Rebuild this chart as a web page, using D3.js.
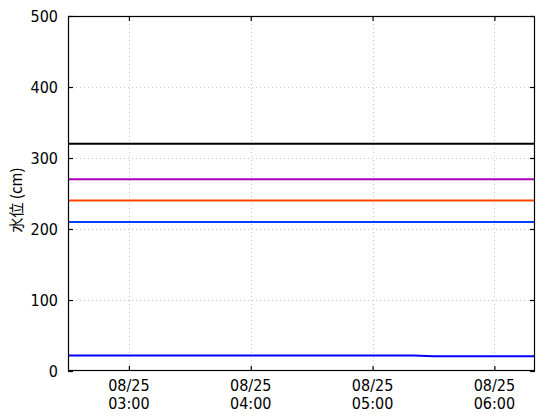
<!DOCTYPE html>
<html><head><meta charset="utf-8">
<script src="https://cdn.jsdelivr.net/npm/d3@7"></script>
<style>body{margin:0;background:#fff}</style>
</head><body><svg id="c" width="560" height="420"></svg>
<script>
const times = ["02:30","02:40","02:50","03:00","03:10","03:20","03:30","03:40","03:50","04:00","04:10","04:20","04:30","04:40","04:50","05:00","05:10","05:20","05:30","05:40","05:50","06:00","06:10","06:20"];
const waterLevel = [22,22,22,22,22,22,22,22,22,22,22,22,22,22,22,22,22,22,20.8,20.8,20.8,20.8,20.8,20.8];
const thresholdNames = ["t320","t270","t240","t210"];
const thresholdValues = [320,270,240,210];
const thresholdColors = ["#000000","#aa00bb","#ff4400","#0040ff"];
const xTicks = ["03:00","04:00","05:00","06:00"];
const yTicks = [0,100,200,300,400,500];
const dateLabel = "08/25";
const yLabel = "水位 (cm)";

const parse = t => { const [h,m] = t.split(":").map(Number); return new Date(2020,7,25,h,m); };
const svg = d3.select("#c");
const L=68, R=535, T=16, B=371;
const x = d3.scaleTime().domain([parse("02:30"), parse("06:20")]).range([L,R]);
const y = d3.scaleLinear().domain([0,500]).range([B,T]);
const font = "'Liberation Sans Narrow','DejaVu Sans Condensed',sans-serif";

// grid
const g = svg.append("g");
g.selectAll(".vg").data(xTicks).join("line")
  .attr("x1",d=>Math.round(x(parse(d)))+0.5).attr("x2",d=>Math.round(x(parse(d)))+0.5)
  .attr("y1",T).attr("y2",B).attr("stroke","#c8c8c8").attr("stroke-dasharray","1,3");
g.selectAll(".hg").data(yTicks.slice(1,-1)).join("line")
  .attr("y1",d=>Math.round(y(d))+0.5).attr("y2",d=>Math.round(y(d))+0.5)
  .attr("x1",L).attr("x2",R).attr("stroke","#c8c8c8").attr("stroke-dasharray","1,3");

// threshold lines
svg.selectAll(".th").data(thresholdValues).join("line")
  .attr("x1",L).attr("x2",R)
  .attr("y1",d=>y(d)).attr("y2",d=>y(d))
  .attr("stroke",(d,i)=>thresholdColors[i]).attr("stroke-width",2);

// water level
const line = d3.line().x((d,i)=>x(parse(times[i]))).y(d=>y(d));
svg.append("path").datum(waterLevel).attr("d",line)
  .attr("fill","none").attr("stroke","#0000ff").attr("stroke-width",2);

// frame
svg.append("rect").attr("x",L+0.5).attr("y",T+0.5).attr("width",R-L-1).attr("height",B-T-1)
  .attr("fill","none").attr("stroke","#000").attr("stroke-width",1.2);

// axes with inward ticks
const yAxL = d3.axisLeft(y).tickValues(yTicks).tickSizeInner(-5).tickSizeOuter(0).tickPadding(10);
const yAxR = d3.axisRight(y).tickValues(yTicks).tickSizeInner(-5).tickSizeOuter(0).tickFormat("");
const xAxB = d3.axisBottom(x).tickValues(xTicks.map(parse)).tickSizeInner(-5).tickSizeOuter(0).tickFormat("");
const xAxT = d3.axisTop(x).tickValues(xTicks.map(parse)).tickSizeInner(-5).tickSizeOuter(0).tickFormat("");
const ay = svg.append("g").attr("transform",`translate(${L},0)`).call(yAxL);
svg.append("g").attr("transform",`translate(${R},0)`).call(yAxR);
svg.append("g").attr("transform",`translate(0,${B})`).call(xAxB);
svg.append("g").attr("transform",`translate(0,${T})`).call(xAxT);
svg.selectAll(".domain").remove();
svg.selectAll(".tick line").attr("stroke","#000").attr("stroke-width",1.2);
ay.selectAll("text").attr("font-family",font).attr("font-size",16).attr("fill","#000");

// x labels
const xl = svg.append("g");
xTicks.forEach(t => {
  const cx = x(parse(t));
  xl.append("text").attr("x",cx).attr("y",391).attr("text-anchor","middle")
    .attr("font-family",font).attr("font-size",16).text(dateLabel);
  xl.append("text").attr("x",cx).attr("y",409).attr("text-anchor","middle")
    .attr("font-family",font).attr("font-size",16).text(t);
});

// y label
svg.append("text").attr("transform",`translate(22,200) rotate(-90)`)
  .attr("text-anchor","middle").attr("font-family","'Noto Sans CJK JP',sans-serif")
  .attr("font-size",15).text(yLabel);
</script></body></html>
